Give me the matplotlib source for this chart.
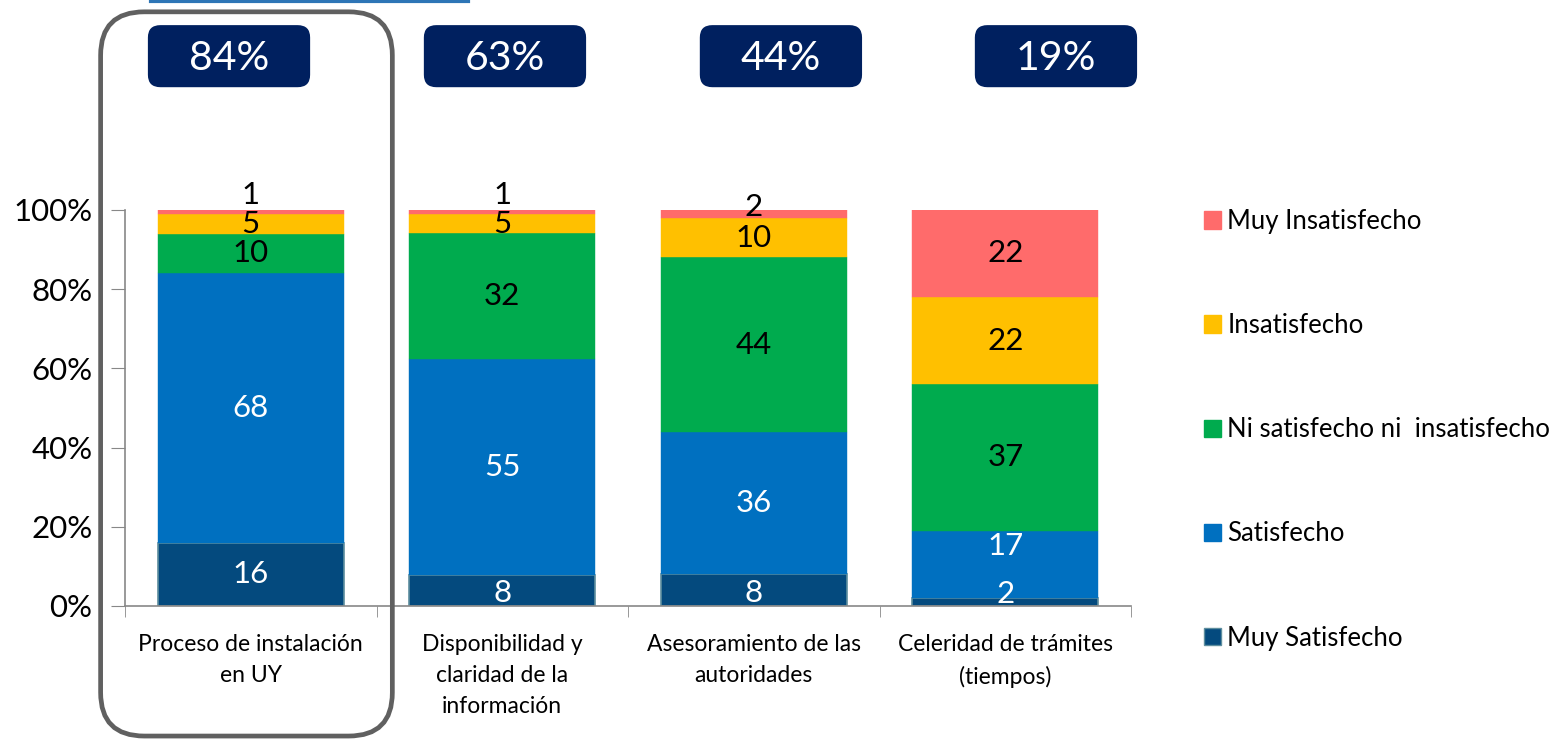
import numpy as np
import matplotlib
matplotlib.use("Agg")
import matplotlib.pyplot as plt
from matplotlib.patches import FancyBboxPatch, Patch
from matplotlib.lines import Line2D

plt.rcParams['font.family'] = ['Lato', 'DejaVu Sans']

categories = ["Proceso de instalación\nen UY",
              "Disponibilidad y\nclaridad de la\ninformación",
              "Asesoramiento de las\nautoridades",
              "Celeridad de trámites\n(tiempos)"]
series = ["Muy Satisfecho", "Satisfecho", "Ni satisfecho ni  insatisfecho",
          "Insatisfecho", "Muy Insatisfecho"]
muy_satisfecho = [16, 8, 8, 2]
satisfecho = [68, 55, 36, 17]
ni_ni = [10, 32, 44, 37]
insatisfecho = [5, 5, 10, 22]
muy_insatisfecho = [1, 1, 2, 22]
top_boxes = ["84%", "63%", "44%", "19%"]

colors = ["#044A7E", "#0070C0", "#00AB4E", "#FFC000", "#FF6B6B"]
text_colors = ["white", "white", "black", "black", "black"]

data = np.array([muy_satisfecho, satisfecho, ni_ni, insatisfecho, muy_insatisfecho], dtype=float)
pct = data / data.sum(axis=0) * 100

fig = plt.figure(figsize=(15.6, 7.39), dpi=100)
ax = fig.add_axes([0.0801, 0.18, 0.645, 0.536])

x = np.arange(len(categories))
bottom = np.zeros(len(categories))
for i, name in enumerate(series):
    ec = "#5E8E9E" if i == 0 else colors[i]
    lw = 1.2 if i == 0 else 0.3
    ax.bar(x, pct[i], 0.74, bottom=bottom, color=colors[i], edgecolor=ec, linewidth=lw, label=name)
    for j in range(len(x)):
        yc = bottom[j] + pct[i][j] / 2
        dy = 0
        # small segments: nudge labels like in the original
        if i == 4 and pct[i][j] < 3:
            dy = 12 if data[i][j] < 2 else 5
        if i == 0 and pct[i][j] < 3:
            dy = 6
        if i == 0 and 3 <= pct[i][j] < 10:
            dy = -2
        if i == 1 and pct[0][j] < 3:
            dy = 13
        ax.annotate(str(int(data[i][j])), (x[j], yc), xytext=(0, dy), textcoords="offset points",
                    ha="center", va="center", fontsize=22.5, color=text_colors[i],
                    annotation_clip=False)
    bottom += pct[i]

ax.set_xlim(-0.5, 3.5)
ax.set_ylim(0, 100)
ax.set_yticks([0, 20, 40, 60, 80, 100])
ax.set_yticklabels([f"{v}%" for v in [0, 20, 40, 60, 80, 100]], fontsize=22.5)
ax.set_xticks(x)
ax.set_xticklabels(categories, fontsize=16.5, linespacing=1.6, va="top")
ax.set_xticks([-0.5, 0.5, 1.5, 2.5, 3.5], minor=True)
ax.tick_params(axis="x", which="major", length=0, pad=20)
ax.tick_params(axis="x", which="minor", length=8, color="#888888", direction="out")
ax.tick_params(axis="y", length=10, color="#888888", pad=13.5)
for s in ["top", "right"]:
    ax.spines[s].set_visible(False)
for s in ["left", "bottom"]:
    ax.spines[s].set_color("#888888")
    ax.spines[s].set_linewidth(1.2)

# legend
handles = [Patch(facecolor=colors[i], edgecolor=("#5E8E9E" if i == 0 else colors[i]), label=series[i])
           for i in range(4, -1, -1)]
fig.legend(handles=handles, loc="upper left", bbox_to_anchor=(0.765, 0.731), frameon=False,
           fontsize=18.5, labelspacing=3.08, handlelength=0.67, handleheight=0.67, handletextpad=0.25,
           borderaxespad=0)

# navy percentage boxes
box_x = [0.1468, 0.3237, 0.5006, 0.6769]
for bx, t in zip(box_x, top_boxes):
    fig.patches.append(FancyBboxPatch((bx - 0.052, 0.882), 0.104, 0.084,
                                      boxstyle="round,pad=0,rounding_size=0.008",
                                      transform=fig.transFigure, facecolor="#00205F",
                                      edgecolor="none", mutation_aspect=2.1))
    fig.text(bx, 0.921, t, ha="center", va="center", fontsize=29.5, color="white")

# highlight frame around first category
fig.patches.append(FancyBboxPatch((0.0645, 0.004), 0.187, 0.98,
                                  boxstyle="round,pad=0,rounding_size=0.028",
                                  transform=fig.transFigure, facecolor="none",
                                  edgecolor="#606060", linewidth=3.4, mutation_aspect=2.1))

# blue line at the top
fig.lines.append(Line2D([0.0965, 0.3], [0.998, 0.998], transform=fig.transFigure,
                        color="#2E75B6", linewidth=3))

fig.savefig("out.png", dpi=100)
